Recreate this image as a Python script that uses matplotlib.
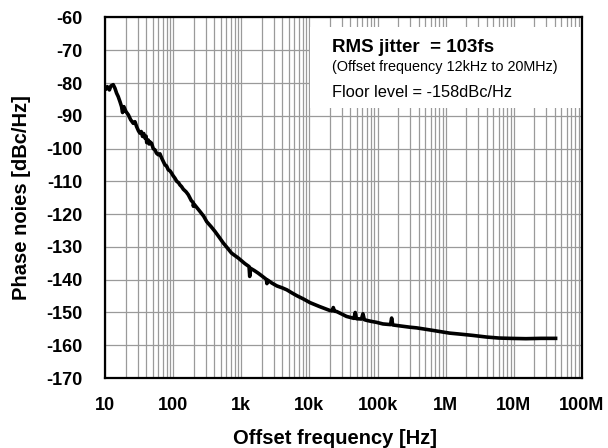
import matplotlib
matplotlib.use('Agg')
import matplotlib.pyplot as plt
from matplotlib.patches import Rectangle
from matplotlib.ticker import FixedLocator, LogLocator, NullFormatter

# phase noise trace (Hz, dBc/Hz)
freq = [10.0, 10.3, 10.8, 11.6, 12.2, 13.2, 14.0, 14.8, 15.6, 16.6, 17.5, 18.1, 18.9,
        20.3, 22.0, 23.8, 26.0, 27.5, 29.1, 31.0, 32.6, 34.0, 35.6, 37.0, 38.6, 40.0,
        41.0, 43.2, 44.5, 46.0, 48.3, 51.0, 54.1, 57.0, 60.6, 64.0, 67.9, 72.0, 76.0,
        80.0, 85.0, 90.0, 95.0, 100.0, 106.0, 113.0, 120.0, 126.0, 133.0, 141.0, 155.0,
        167.0, 185.0, 196.0, 198.0, 202.0, 248.0, 280.0, 311.0, 360.0, 412.0, 480.0,
        544.0, 630.0, 720.0, 905.0, 1130.0, 1300.0, 1330.0, 1360.0, 1550.0, 1770.0,
        2050.0, 2330.0, 2380.0, 2430.0, 2800.0, 3330.0, 4000.0, 4670.0, 5500.0, 6560.0,
        8200.0, 10200.0, 14100.0, 20000.0, 21500.0, 22400.0, 23300.0, 25000.0,
        30000.0, 35000.0, 45000.0, 47000.0, 49000.0, 58000.0, 61000.0, 64000.0,
        69000.0, 80000.0, 96000.0, 120000.0, 155000.0, 161000.0, 167000.0, 213000.0,
        300000.0, 375000.0, 500000.0, 660000.0, 1.14e6, 1.62e6, 2.5e6, 4.0e6, 6.0e6,
        8.7e6, 1.5e7, 2.5e7, 4.1e7]
noise = [-81.5, -81.9, -81.1, -82.1, -80.9, -80.5, -81.6, -83.1, -84.1, -85.7, -87.2, -89.0, -87.2,
         -88.7, -89.7, -91.2, -92.3, -91.8, -93.3, -94.6, -95.3, -94.8, -96.3, -95.4, -96.8, -96.2,
         -98.2, -97.4, -98.6, -98.0, -98.4, -100.0, -100.4, -101.4, -101.9, -101.6, -102.9, -104.0, -105.0,
         -105.3, -106.5, -106.8, -107.5, -108.3, -109.0, -110.0, -110.4, -111.1, -111.6, -112.4, -113.2,
         -114.1, -115.9, -116.4, -117.6, -116.9, -119.2, -120.6, -122.3, -123.8, -125.3, -127.2,
         -128.8, -130.4, -131.9, -133.4, -135.1, -136.0, -139.0, -136.5, -137.2, -138.0,
         -139.0, -139.9, -141.2, -140.1, -141.0, -141.9, -142.5, -143.1, -144.0, -144.9,
         -145.9, -147.0, -148.2, -149.4, -149.5, -148.5, -149.6, -149.7,
         -150.5, -151.2, -151.8, -150.0, -151.9, -152.0, -150.4, -152.2,
         -152.4, -152.7, -153.0, -153.5, -153.7, -151.7, -153.8, -154.1,
         -154.5, -154.7, -155.1, -155.5, -156.3, -156.6, -157.0, -157.5, -157.8,
         -157.9, -158.0, -157.9, -157.9]

xticks = [10, 100, 1e3, 1e4, 1e5, 1e6, 1e7, 1e8]
xtick_labels = ['10', '100', '1k', '10k', '100k', '1M', '10M', '100M']
yticks = list(range(-170, -50, 10))

font_tick = {'family': 'Liberation Sans', 'weight': 'bold', 'size': 13}
font_label = {'family': 'Liberation Sans', 'weight': 'bold', 'size': 14.5}

fig = plt.figure(figsize=(6.08, 4.48), dpi=100)
ax = fig.add_axes([0.1727, 0.1562, 0.7845, 0.8048])

ax.semilogx(freq, noise, color='black', linewidth=2.6, zorder=4)

ax.set_xlim(10, 1e8)
ax.set_ylim(-170, -60)
ax.xaxis.set_major_locator(FixedLocator(xticks))
ax.xaxis.set_minor_locator(LogLocator(base=10, subs=range(2, 10), numticks=20))
ax.xaxis.set_minor_formatter(NullFormatter())
ax.set_xticks(xticks)
ax.set_xticklabels(xtick_labels, fontdict=font_tick)
ax.set_yticks(yticks)
ax.set_yticklabels([str(v) for v in yticks], fontdict=font_tick)
ax.tick_params(axis='both', which='both', length=0)
ax.tick_params(axis='x', pad=14)
ax.tick_params(axis='y', pad=16)

ax.grid(True, which='major', color='#9a9a9a', linewidth=0.9)
ax.grid(True, which='minor', axis='x', color='#9a9a9a', linewidth=0.9)
ax.set_axisbelow(True)
for s in ax.spines.values():
    s.set_linewidth(1.6)
    s.set_color('black')
    s.set_zorder(5)

# white panel behind the annotation
ax.add_patch(Rectangle((0.43, 0.749), 0.57, 0.225, transform=ax.transAxes,
                       facecolor='white', edgecolor='none', zorder=3))
ax.text(0.475, 0.904, 'RMS jitter  = 103fs', transform=ax.transAxes,
        family='Liberation Sans', weight='bold', size=13.5, zorder=4)
ax.text(0.475, 0.852, '(Offset frequency 12kHz to 20MHz)', transform=ax.transAxes,
        family='Liberation Sans', size=10.4, zorder=4)
ax.text(0.475, 0.780, 'Floor level = -158dBc/Hz', transform=ax.transAxes,
        family='Liberation Sans', size=11.8, zorder=4)

ax.set_xlabel('Offset frequency [Hz]', fontdict=font_label)
ax.set_ylabel('Phase noies [dBc/Hz]', fontdict=font_label)
ax.xaxis.set_label_coords(0.482, -0.142)
ax.yaxis.set_label_coords(-0.156, 0.5)

plt.savefig('out.png', dpi=100)
